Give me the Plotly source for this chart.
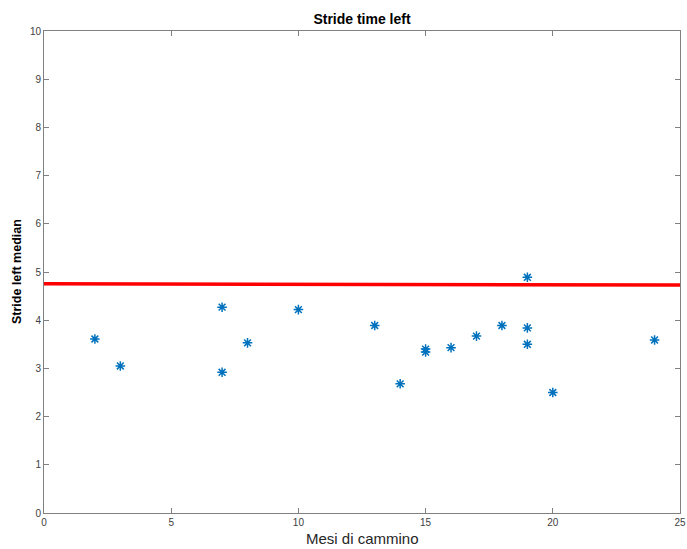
import plotly.graph_objects as go

mesi = [2, 3, 7, 7, 8, 10, 13, 14, 15, 15, 16, 17, 18, 19, 19, 19, 20, 24]
stride_left = [3.61, 3.05, 4.27, 2.92, 3.53, 4.22, 3.89, 2.68, 3.40, 3.34,
               3.43, 3.67, 3.89, 4.89, 3.84, 3.50, 2.50, 3.59]
line_x = [0, 25]
line_y = [4.755, 4.73]

fig = go.Figure()
fig.add_trace(go.Scatter(
    x=mesi, y=stride_left, mode="markers",
    marker=dict(symbol="asterisk-open", size=8, color="#0072BD",
                line=dict(color="#0072BD", width=1.5)),
    showlegend=False, cliponaxis=False))
fig.add_trace(go.Scatter(
    x=line_x, y=line_y, mode="lines",
    line=dict(color="#FF0000", width=3.5), showlegend=False))

axis_common = dict(
    showgrid=False, zeroline=False, showline=True, linecolor="#808080",
    linewidth=1, mirror="ticks", ticks="inside", ticklen=5,
    tickcolor="#808080", automargin=False,
    tickfont=dict(family="Liberation Sans", size=10, color="#404040"),
)
fig.update_xaxes(range=[0, 25], dtick=5, tick0=0, **axis_common)
fig.update_yaxes(range=[0, 10], dtick=1, tick0=0, **axis_common)
fig.update_layout(
    width=687, height=549,
    margin=dict(l=44, r=6.5, t=31, b=35.5, autoexpand=False),
    paper_bgcolor="white", plot_bgcolor="white",
    title=dict(text="<b>Stride time left</b>", x=0.5, xanchor="center",
               xref="paper", automargin=False,
               y=1 - 19 / 549, yanchor="middle",
               font=dict(family="Liberation Sans", size=14, color="#000000")),
    annotations=[
        dict(text="Mesi di cammino", xref="paper", yref="paper", x=0.5, y=0,
             yshift=-25, xanchor="center", yanchor="middle", showarrow=False,
             font=dict(family="Liberation Sans", size=15, color="#262626")),
        dict(text="<b>Stride left median</b>", xref="paper", yref="paper",
             x=0, y=0.5, xshift=-27, textangle=-90, xanchor="center",
             yanchor="middle", showarrow=False,
             font=dict(family="Liberation Sans", size=12.5, color="#000000")),
    ],
)
fig.write_html("out.html", config={"displayModeBar": False},
               post_script="document.body.style.margin='0';document.body.style.overflow='hidden';")
